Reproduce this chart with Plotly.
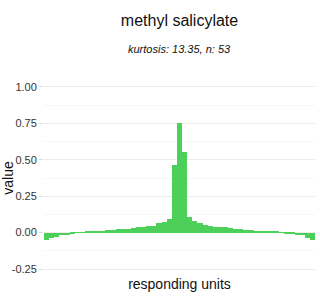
import plotly.graph_objects as go

units = list(range(1, 54))
values = [
    -0.048, -0.034, -0.028, -0.016, -0.016, -0.009, -0.002, 0.002, 0.005, 0.011,
    0.011, 0.011, 0.018, 0.018, 0.025, 0.025, 0.025, 0.032, 0.039, 0.039,
    0.046, 0.046, 0.067, 0.073, 0.094, 0.466, 0.755, 0.551, 0.108, 0.080,
    0.067, 0.053, 0.046, 0.039, 0.039, 0.039, 0.032, 0.025, 0.025, 0.018,
    0.018, 0.011, 0.011, 0.011, 0.005, 0.005, 0.001, -0.007, -0.007, -0.014,
    -0.014, -0.034, -0.048,
]
title = "methyl salicylate"
subtitle = "kurtosis: 13.35, n: 53"
y_ticks = [-0.25, 0.0, 0.25, 0.5, 0.75, 1.0]
y_labels = ["-0.25", "0.00", "0.25", "0.50", "0.75", "1.00"]

font = "Liberation Sans, Arial, sans-serif"

fig = go.Figure(go.Bar(
    x=[str(u) for u in units], y=values,
    marker=dict(color="#4cd05a", line=dict(width=0)),
))

fig.update_layout(
    width=320, height=300,
    margin=dict(l=44, r=5, t=81, b=25, autoexpand=False),
    paper_bgcolor="white", plot_bgcolor="white",
    bargap=0,
    showlegend=False,
    font=dict(family=font, color="#222222"),
    title=dict(text=title, x=0.5, xref="paper", xanchor="center",
               y=1 - 20 / 300, yref="container", yanchor="middle",
               font=dict(size=16, color="#111111")),
    annotations=[dict(text="<i>" + subtitle + "</i>", x=0.5, xref="paper",
                      y=(275 - 49) / 194, yref="paper", yanchor="middle",
                      xanchor="center", showarrow=False,
                      font=dict(size=11, color="#111111"))],
)
fig.update_xaxes(
    type="category", range=[-0.5, 52.5], showticklabels=False, ticks="",
    showgrid=False, zeroline=False, showline=False, automargin=False,
    title=dict(text="responding units", font=dict(size=14, color="#111111"), standoff=4),
)
fig.update_yaxes(
    range=[-0.291, 1.041], tickvals=y_ticks, ticktext=y_labels,
    ticks="outside", ticklen=4, tickcolor="#dddddd", automargin=False,
    tickfont=dict(size=11, color="#333333"),
    showgrid=True, gridcolor="#ebebeb", gridwidth=1,
    minor=dict(tickvals=[-0.125, 0.125, 0.375, 0.625, 0.875], showgrid=True,
               gridcolor="#f6f6f6", gridwidth=1, ticks=""),
    zeroline=False, showline=False,
    title=dict(text="value", font=dict(size=14, color="#111111"), standoff=4),
)

fig.write_html("out.html")
